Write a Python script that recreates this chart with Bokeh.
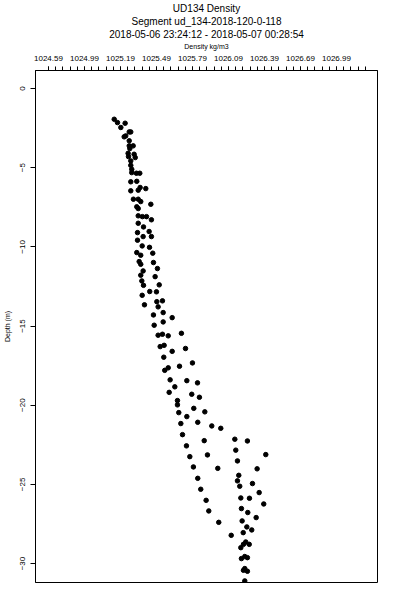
from bokeh.plotting import figure
from bokeh.models import FixedTicker, CustomJSTickFormatter, Title, Range1d
from bokeh.embed import file_html
from bokeh.resources import INLINE

# Density (kg/m3) and depth (m)
density = [
    1025.138, 1025.165, 1025.229, 1025.193, 1025.263, 1025.276, 1025.234, 1025.221, 1025.263, 1025.263,
    1025.296, 1025.268, 1025.254, 1025.304, 1025.257, 1025.313, 1025.276, 1025.276, 1025.284, 1025.284,
    1025.323, 1025.351, 1025.326, 1025.276, 1025.354, 1025.401, 1025.338, 1025.276, 1025.298, 1025.338,
    1025.359, 1025.443, 1025.326, 1025.338, 1025.338, 1025.373, 1025.407, 1025.448, 1025.338, 1025.382,
    1025.429, 1025.332, 1025.379, 1025.448, 1025.332, 1025.371, 1025.432, 1025.326, 1025.459, 1025.359,
    1025.346, 1025.465, 1025.359, 1025.498, 1025.379, 1025.359, 1025.479, 1025.368, 1025.513, 1025.382,
    1025.434, 1025.490, 1025.371, 1025.540, 1025.493, 1025.390, 1025.504, 1025.546, 1025.465, 1025.621,
    1025.546, 1025.471, 1025.698, 1025.540, 1025.504, 1025.588, 1025.554, 1025.521, 1025.732, 1025.621,
    1025.551, 1025.790, 1025.682, 1025.588, 1025.559, 1025.604, 1025.743, 1025.832, 1025.643, 1025.596,
    1025.784, 1025.848, 1025.665, 1025.665, 1025.801, 1025.893, 1025.676, 1025.743, 1025.834, 1025.693,
    1025.951, 1026.026, 1025.707, 1026.143, 1025.888, 1026.248, 1025.740, 1026.151, 1026.401, 1025.915,
    1025.768, 1026.165, 1025.798, 1026.001, 1026.329, 1026.176, 1025.834, 1026.165, 1026.290, 1026.184,
    1025.859, 1026.346, 1026.193, 1026.265, 1025.904, 1026.384, 1026.198, 1025.926, 1026.251, 1026.321,
    1026.204, 1026.009, 1026.243, 1026.284, 1026.213, 1026.113, 1026.234, 1026.263, 1026.215, 1026.193,
    1026.226, 1026.248, 1026.198, 1026.226, 1026.215, 1026.248, 1026.226,
]
depth = [
    -1.94, -2.15, -2.19, -2.46, -2.74, -2.74, -2.99, -3.05, -3.30, -3.62,
    -3.62, -3.79, -4.09, -4.15, -4.30, -4.36, -4.57, -4.85, -5.10, -5.31,
    -5.35, -5.35, -5.86, -5.89, -6.25, -6.32, -6.42, -6.46, -6.99, -6.99,
    -7.14, -7.31, -7.47, -7.58, -8.04, -8.09, -8.09, -8.29, -8.51, -8.74,
    -9.03, -9.10, -9.35, -9.35, -9.58, -9.94, -10.03, -10.36, -10.40, -10.53,
    -10.93, -10.99, -11.10, -11.37, -11.52, -11.79, -11.88, -12.15, -12.40, -12.43,
    -12.82, -12.84, -13.06, -13.41, -13.46, -13.66, -13.79, -14.15, -14.30, -14.47,
    -14.74, -14.95, -15.46, -15.52, -15.58, -15.62, -16.22, -16.30, -16.42, -16.60,
    -16.97, -17.33, -17.54, -17.64, -17.80, -18.40, -18.45, -18.59, -18.84, -19.19,
    -19.31, -19.50, -19.71, -19.98, -20.20, -20.42, -20.47, -20.72, -21.08, -21.16,
    -21.31, -21.46, -21.86, -22.15, -22.24, -22.26, -22.57, -22.84, -23.12, -23.14,
    -23.25, -23.52, -23.90, -23.99, -24.02, -24.43, -24.62, -24.78, -24.95, -25.12,
    -25.31, -25.52, -25.86, -25.88, -26.01, -26.24, -26.53, -26.68, -26.78, -27.10,
    -27.31, -27.40, -27.69, -27.88, -28.05, -28.22, -28.64, -28.79, -28.79, -29.00,
    -29.56, -29.63, -29.69, -30.32, -30.43, -30.49, -31.10,
]

x_tick_pos = [1024.59, 1024.89, 1025.19, 1025.49, 1025.79, 1026.09, 1026.39, 1026.69, 1026.99]
x_tick_labels = ["1024.59", "1024.99", "1025.19", "1025.49", "1025.79", "1026.09", "1026.39", "1026.69", "1026.99"]
x_minor_ticks = [round(1024.59 + 0.06 * k, 2) for k in range(45)]
y_ticks = [0, -5, -10, -15, -20, -25, -30]

title_lines = ["UD134 Density", "Segment ud_134-2018-120-0-118", "2018-05-06 23:24:12 - 2018-05-07 00:28:54"]

FONT = "Liberation Sans"

p = figure(
    frame_width=342, frame_height=512,
    x_range=Range1d(1024.482, 1027.332), y_range=Range1d(-31.2, 1.14),
    x_axis_location="above",
    output_backend="svg", toolbar_location=None,
    min_border_left=30, min_border_right=12, min_border_bottom=12, min_border_top=0,
)
p.title.visible = False
p.grid.visible = False
p.outline_line_color = "black"
p.outline_line_width = 1
p.background_fill_color = "white"
p.border_fill_color = "white"

xa = p.xaxis[0]
xa.ticker = FixedTicker(ticks=x_tick_pos, minor_ticks=x_minor_ticks)
xa.formatter = CustomJSTickFormatter(args=dict(labels=x_tick_labels), code="return labels[index]")
xa.axis_line_color = "black"
xa.major_tick_line_color = "black"
xa.minor_tick_line_color = "black"
xa.major_tick_in = 0
xa.major_tick_out = 4
xa.minor_tick_in = 0
xa.minor_tick_out = 4
xa.major_label_standoff = 6
xa.major_label_text_font = FONT
xa.major_label_text_font_size = "8px"
xa.major_label_text_color = "black"
xa.axis_label = "Density kg/m3"
xa.axis_label_text_font = FONT
xa.axis_label_text_font_size = "7px"
xa.axis_label_text_font_style = "normal"
xa.axis_label_text_color = "black"
xa.axis_label_standoff = 3

ya = p.yaxis[0]
ya.ticker = FixedTicker(ticks=y_ticks)
ya.axis_line_color = "black"
ya.major_tick_line_color = "black"
ya.major_tick_in = 0
ya.major_tick_out = 5
ya.minor_tick_in = 0
ya.minor_tick_out = 0
ya.major_label_orientation = "vertical"
ya.major_label_standoff = 5
ya.major_label_text_font = FONT
ya.major_label_text_font_size = "8px"
ya.major_label_text_color = "black"
ya.axis_label = "Depth (m)"
ya.axis_label_text_font = FONT
ya.axis_label_text_font_size = "7px"
ya.axis_label_text_font_style = "normal"
ya.axis_label_text_color = "black"
ya.axis_label_standoff = 7

for line in reversed(title_lines):
    p.add_layout(Title(text=line, align="center", text_font=FONT, text_font_size="10px",
                       text_font_style="normal", text_color="black", text_line_height=0.9,
                       standoff=0, offset=0), "above")

p.scatter(density, depth, size=4.5, color="black", marker="circle")

open("out.html", "w").write(file_html(p, INLINE))
